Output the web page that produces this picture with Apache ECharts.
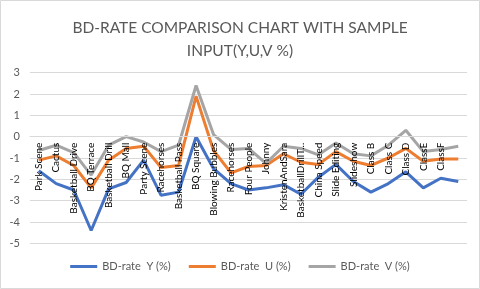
<!DOCTYPE html>
<html>
<head>
<meta charset="utf-8">
<script src="https://cdn.jsdelivr.net/npm/echarts@6/dist/echarts.min.js"></script>
<style>
html,body{margin:0;padding:0;background:#fff;}
#c{width:480px;height:289px;}
</style>
</head>
<body>
<div id="c"></div>
<script>
var categories = ["Park Scene","Cactus","Basketball Drive","BQ Terrace","Basketball Drill","BQ Mall","Party Scene","Racehorses","Basketball Pass","BQ Square","Blowing Bubbles","Racehorses","Four People","Johnny","KristenAndSara","BasketballDrillT...","China Speed","Slide Editing","Slideshow","Class B","Class C","Class D","ClassE","ClassF",""];
var seriesNames = ["BD-rate  Y (%)","BD-rate  U (%)","BD-rate  V (%)"];
var valuesY = [-1.6,-2.2,-2.5,-4.4,-2.45,-2.15,-1.1,-2.75,-2.6,0.0,-1.5,-2.2,-2.5,-2.4,-2.25,-2.7,-1.9,-1.3,-2.1,-2.6,-2.2,-1.65,-2.4,-1.95,-2.1];
var valuesU = [-1.1,-0.9,-1.35,-2.4,-1.1,-0.55,-0.45,-1.45,-1.35,1.9,-0.65,-1.7,-1.4,-1.35,-0.8,-1.2,-1.3,-0.7,-1.15,-1.35,-1.0,-0.55,-1.15,-1.05,-1.05];
var valuesV = [-0.65,-0.4,-0.75,-1.8,-0.4,0.0,-0.25,-0.7,-0.4,2.4,0.1,-0.6,-0.55,-1.25,-0.45,-0.55,-0.85,-0.3,-0.8,-0.9,-0.4,0.3,-0.7,-0.6,-0.45];
var yTicks = {min:-5, max:3, interval:1};
var titleText = "BD-RATE COMPARISON CHART WITH SAMPLE\nINPUT(Y,U,V %)";

var colors = ["#4472C4","#ED7D31","#A5A5A5"];
var font = "Lato, 'Open Sans', sans-serif";
var gridTop = 72.7, gridBottom = 45.7, H = 289;
var plotH = H - gridTop - gridBottom;
// offset moving the category axis from the grid bottom up to the value 0
var zeroOffset = -plotH * (0 - yTicks.min) / (yTicks.max - yTicks.min);
var chart = echarts.init(document.getElementById('c'), null, {renderer:'canvas'});
var vals = [valuesY, valuesU, valuesV];
chart.setOption({
  animation:false,
  color: colors,
  graphic:[{type:'rect', shape:{x:0.5,y:0.5,width:479,height:288}, style:{fill:'none',stroke:'#d9d9d9',lineWidth:1}, z:-1}],
  title:{
    text:titleText, left:'center', top:11,
    textStyle:{fontFamily:font, fontSize:15.5, fontWeight:'normal', color:'#595959', lineHeight:23}
  },
  legend:{
    bottom:12, left:'center', icon:'rect', itemWidth:27, itemHeight:3, itemGap:18,
    textStyle:{fontFamily:font, fontSize:11, color:'#595959'},
    data: seriesNames
  },
  grid:{left:30, right:13, top:gridTop, bottom:gridBottom, containLabel:false},
  xAxis:{
    type:'category', data:categories, boundaryGap:true, z:5,
    position:'bottom', offset: zeroOffset,
    axisLine:{show:true, onZero:false, lineStyle:{color:'#d9d9d9'}},
    axisTick:{show:false},
    axisLabel:{rotate:90, interval:0, margin:6, fontFamily:font, fontSize:10, color:'#000'}
  },
  yAxis:{
    type:'value', min:yTicks.min, max:yTicks.max, interval:yTicks.interval,
    axisLine:{show:false}, axisTick:{show:false},
    splitLine:{lineStyle:{color:'#d9d9d9'}},
    axisLabel:{fontFamily:font, fontSize:11, color:'#595959', margin:10}
  },
  series: seriesNames.map(function(n,i){
    return {name:n, type:'line', data:vals[i], showSymbol:false, symbol:'none', z:2, lineStyle:{width:3, color:colors[i]}, itemStyle:{color:colors[i]}};
  })
});
</script>
</body>
</html>
